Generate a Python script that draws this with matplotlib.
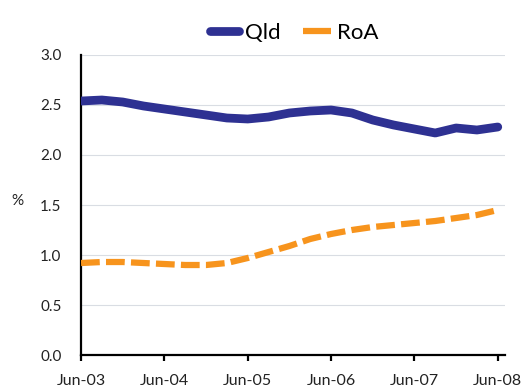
import matplotlib.pyplot as plt
from matplotlib.lines import Line2D

# quarterly observations, Jun-03 to Jun-08
quarters = ['Jun-03', 'Sep-03', 'Dec-03', 'Mar-04', 'Jun-04', 'Sep-04', 'Dec-04',
            'Mar-05', 'Jun-05', 'Sep-05', 'Dec-05', 'Mar-06', 'Jun-06', 'Sep-06',
            'Dec-06', 'Mar-07', 'Jun-07', 'Sep-07', 'Dec-07', 'Mar-08', 'Jun-08']
qld = [2.54, 2.55, 2.53, 2.49, 2.46, 2.43, 2.40, 2.37, 2.36, 2.38, 2.42,
       2.44, 2.45, 2.42, 2.35, 2.30, 2.26, 2.22, 2.27, 2.25, 2.28]
roa = [0.92, 0.93, 0.93, 0.92, 0.91, 0.90, 0.90, 0.92, 0.97, 1.03, 1.09,
       1.16, 1.21, 1.25, 1.28, 1.30, 1.32, 1.34, 1.37, 1.40, 1.45]
year_ticks = ['Jun-03', 'Jun-04', 'Jun-05', 'Jun-06', 'Jun-07', 'Jun-08']
y_ticks = [0.0, 0.5, 1.0, 1.5, 2.0, 2.5, 3.0]

navy = '#2e3192'
orange = '#f7941d'

plt.rcParams['font.family'] = ['Lato', 'DejaVu Sans']

fig = plt.figure(figsize=(5.21, 3.90), dpi=100)
ax = fig.add_axes([0.1555, 0.0897, 0.8135, 0.7693])

x = list(range(len(quarters)))
ax.plot(x, qld, color=navy, lw=6.3, solid_capstyle='round', solid_joinstyle='round',
        zorder=3)
ax.plot(x, roa, color=orange, lw=4.5, dashes=(3.0, 1.0), dash_capstyle='butt',
        zorder=3)

ax.set_xlim(0, 20.34)
ax.set_ylim(0, 3.0)
ax.set_xticks([quarters.index(q) for q in year_ticks])
ax.set_xticklabels(year_ticks)
ax.set_yticks(y_ticks)
ax.set_yticklabels(['%.1f' % v for v in y_ticks])

ax.grid(axis='y', color='#d9dde3', lw=0.8, zorder=0)
for s in ['top', 'right']:
    ax.spines[s].set_visible(False)
for s in ['left', 'bottom']:
    ax.spines[s].set_color('black')
    ax.spines[s].set_linewidth(1.6)
ax.tick_params(axis='y', length=0, pad=14, labelsize=11, labelcolor='#222222')
ax.tick_params(axis='x', length=4, width=1.6, direction='out', pad=10,
               labelsize=11.5, color='black', labelcolor='#222222')

ax.set_ylabel('%', rotation=0, fontsize=11, color='#222222', labelpad=0)
ax.yaxis.set_label_coords(-0.15, 0.49)

# legend keys: thick rounded bar for Qld, short flat bar for RoA
handles = [Line2D([], [], color=navy, lw=6.3, solid_capstyle='round'),
           Line2D([], [], color=orange, lw=4.5, solid_capstyle='butt')]
fig.legend(handles, ['Qld', 'RoA'], loc='center', bbox_to_anchor=(0.565, 0.915),
           ncol=2, frameon=False, fontsize=16, handlelength=1.3,
           handletextpad=0.25, columnspacing=1.0)

plt.savefig('out.png', dpi=100)
